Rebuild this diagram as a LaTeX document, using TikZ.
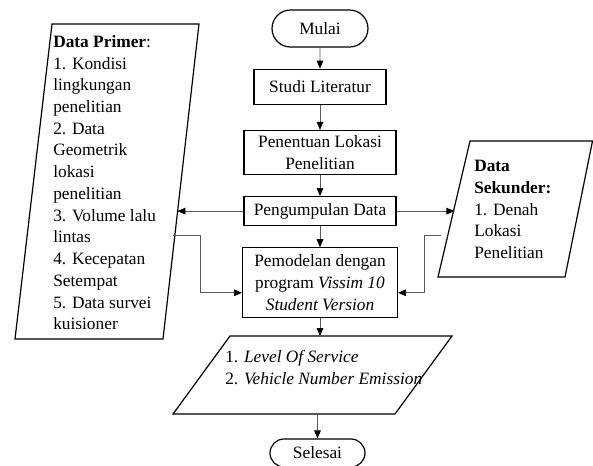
\documentclass[tikz,border=0pt]{standalone}
\usepackage{fontspec}
\setmainfont{Liberation Serif}
\usetikzlibrary{arrows.meta,positioning,shapes.misc}
\definecolor{Wire}{HTML}{5A5A5A}
\tikzset{
  term/.style={rounded rectangle, draw, line width=0.9pt, minimum width=72pt,
    minimum height=27.75pt, inner sep=0pt},
  proc/.style={rectangle, draw, line width=0.9pt, minimum width=114pt,
    align=center, inner sep=0pt},
  io/.style={draw, line width=0.9pt},
  info/.style={inner sep=0pt, align=left, anchor=north west},
  arrow/.style={-{Triangle[length=6pt,width=5pt,color=black]}, draw=Wire, line width=0.6pt}
}
\begin{document}
\begin{tikzpicture}[x=0.75pt, y=-0.75pt, font=\fontsize{13}{16.3}\selectfont]
  \useasboundingbox (0,0) rectangle (593,465);
  % main column
  \node[term] (start) at (320,28.5) {Mulai};
  \node[proc, below=15.75pt of start, minimum width=99pt, minimum height=26.25pt] (study) {Studi Literatur};
  \node[proc, below=18.75pt of study, minimum height=33pt] (locate) {Penentuan Lokasi\\Penelitian};
  \node[proc, below=15.75pt of locate, minimum height=21.75pt] (collect) {Pengumpulan Data};
  \node[proc, below=15.75pt of collect, minimum width=116.25pt, minimum height=52.5pt] (model)
    {Pemodelan dengan\\program \textit{Vissim 10}\\\textit{Student Version}};
  \node[term, minimum width=71.25pt, minimum height=21pt] (stop) at (317.5,453) {Selesai};
  % data primer
  \coordinate (p1) at (52,24); \coordinate (p2) at (199,24);
  \coordinate (p3) at (163,339); \coordinate (p4) at (15,339);
  \draw[io] (p1) -- (p2) -- (p3) -- (p4) -- cycle;
  \node[info] (primer) at (53,35) {\textbf{Data Primer}:\\1. Kondisi\\lingkungan\\penelitian\\2. Data\\Geometrik\\lokasi\\penelitian\\3. Volume lalu\\lintas\\4. Kecepatan\\Setempat\\5. Data survei\\kuisioner};
  \coordinate (primerIn) at (177.4,207.5);
  \coordinate (primerOut) at (173,235);
  % data sekunder
  \coordinate (s1) at (470,141); \coordinate (s2) at (592.5,141);
  \coordinate (s3) at (565,277); \coordinate (s4) at (438,277);
  \draw[io] (s1) -- (s2) -- (s3) -- (s4) -- cycle;
  \node[info] (second) at (474,160) {\textbf{Data}\\\textbf{Sekunder:}\\1. Denah\\Lokasi\\Penelitian};
  \coordinate (secondIn) at (454.4,207.5);
  \coordinate (secondOut) at (441,235);
  % output
  \coordinate (o1) at (230,336); \coordinate (o2) at (452,336);
  \coordinate (o3) at (395,414); \coordinate (o4) at (173,414);
  \draw[io] (o1) -- (o2) -- (o3) -- (o4) -- cycle;
  \node[info] (result) at (225,350) {1. \textit{Level Of Service}\\2. \textit{Vehicle Number Emission}};
  \coordinate (resultTop) at (model.south |- o1);
  \coordinate (resultBot) at (stop.north |- o3);
  % connectors
  \draw[arrow] (start) -- (study);
  \draw[arrow] (study) -- (locate);
  \draw[arrow] (locate) -- (collect);
  \draw[arrow] (collect) -- (model);
  \draw[arrow] (collect.west) -- (collect.west -| primerIn);
  \draw[arrow] (collect.east) -- (collect.east -| secondIn);
  \draw[arrow] (primerOut) -- ++(27,0) |- ([yshift=-7.5pt]model.west);
  \draw[arrow] (secondOut) -- ++(-17,0) |- ([yshift=-7.5pt]model.east);
  \draw[arrow] (model.south) -- (resultTop);
  \draw[arrow] (resultBot) -- (stop.north);
\end{tikzpicture}
\end{document}
